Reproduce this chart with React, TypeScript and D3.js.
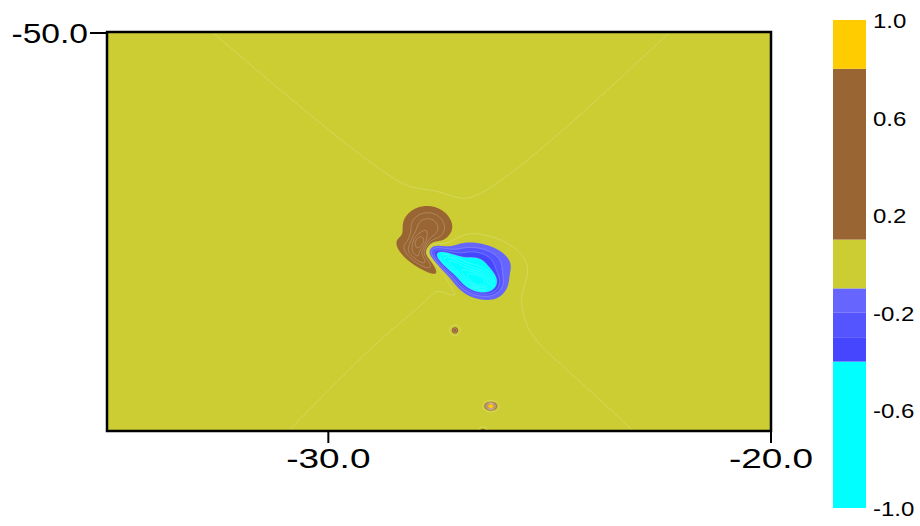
import React, { useEffect, useRef } from 'react';
import * as d3 from 'd3';

// axes
const xDomain = [-35, -20];
const yDomain = [-59, -50];
const xTicks = [-30, -20];
const yTicks = [-50];

// colour bands: lower edge of each band and its fill
const bandEdges = [-1.0, -0.4, -0.3, -0.2, -0.1, 0.1, 0.8, 1.0];
const bandColors = ['#00ffff', '#4646ff', '#5555ff', '#6666ff', '#cccc33', '#996633', '#ffcc00'];
const barTicks = [1.0, 0.6, 0.2, -0.2, -0.6, -1.0];
const lineLevels = [-0.9, -0.8, -0.7, -0.6, -0.5, -0.4, -0.3, -0.2, 0, 0.2, 0.3, 0.4, 0.5, 0.6, 0.7];

// features of the field (degrees)
// brown peak, brown head, brown tail, blue tip, blue core, blue top, blue halo, ridge, three small spots
const blobLon = [-27.93, -27.75, -27.93, -27.21, -26.57, -26.69, -26.35, -27.34, -27.14, -26.33, -26.51];
const blobLat = [-54.76, -54.42, -55.10, -55.23, -55.62, -55.14, -55.48, -55.66, -56.73, -58.44, -59.02];
const blobAmp = [0.5, 0.35, 0.3, -0.55, -0.75, -0.4, -0.05, 0.05, 0.3, 1.25, 0.3];
const blobSigU = [0.14, 0.32, 0.31, 0.5, 0.29, 0.5, 0.7, 0.45, 0.056, 0.07, 0.056];
const blobSigV = [0.14, 0.3, 0.11, 0.135, 0.18, 0.25, 0.7, 0.11, 0.056, 0.048, 0.056];
const blobAngle = [0, 0, -36, -36, -10, -10, 0, -43, 0, 0, 0];

// weak background saddle, its zero line makes the faint X
const saddleCenter = [-27.21, -54.88];
const saddleAmp = 0.05;
const saddleSlopeTop = 0.92;
const saddleSlopeBottom = 1.02;
const saddleShear = 0.05;
const saddleGap = 1.1;

const W = 920;
const H = 526;
const px0 = 107, px1 = 771, py0 = 32, py1 = 431;

function field(lon: number, lat: number) {
  let v = 0;
  for (let k = 0; k < blobAmp.length; k++) {
    const dx = lon - blobLon[k];
    const dy = lat - blobLat[k];
    const a = (blobAngle[k] * Math.PI) / 180;
    const u = dx * Math.cos(a) + dy * Math.sin(a);
    const w = -dx * Math.sin(a) + dy * Math.cos(a);
    v += blobAmp[k] * Math.exp(-(u * u) / (2 * blobSigU[k] ** 2) - (w * w) / (2 * blobSigV[k] ** 2));
  }
  const sy = lat - saddleCenter[1];
  const slope = sy > 0 ? saddleSlopeTop : saddleSlopeBottom;
  const sx = slope * (lon - saddleCenter[0] + saddleShear * sy);
  const g2 = saddleGap * saddleGap;
  v += (saddleAmp * (sx * sx - sy * sy + g2)) / (sx * sx + sy * sy + g2);
  return v;
}

const App = () => {
  const ref = useRef<SVGSVGElement>(null);

  useEffect(() => {
    const svg = d3.select(ref.current);
    svg.selectAll('*').remove();

    const x = d3.scaleLinear().domain(xDomain).range([px0, px1]);
    const y = d3.scaleLinear().domain(yDomain).range([py1, py0]);
    const c = d3.scaleLinear().domain([-1, 1]).range([508, 20]);

    const nx = 664;
    const ny = 399;
    const cw = (px1 - px0) / nx;
    const ch = (py1 - py0) / ny;
    const values: number[] = new Array(nx * ny);
    for (let j = 0; j < ny; j++) {
      for (let i = 0; i < nx; i++) {
        values[j * nx + i] = field(x.invert(px0 + (i + 0.5) * cw), y.invert(py0 + (j + 0.5) * ch));
      }
    }

    const proj = d3.geoTransform({
      point(px, py) {
        this.stream.point(px0 + px * cw, py0 + py * ch);
      },
    });
    const path = d3.geoPath(proj);
    const contours = d3.contours().size([nx, ny]);

    svg.append('defs').append('clipPath').attr('id', 'plot-clip')
      .append('rect').attr('x', px0).attr('y', py0).attr('width', px1 - px0).attr('height', py1 - py0);

    const plot = svg.append('g').attr('clip-path', 'url(#plot-clip)');
    plot.append('rect')
      .attr('x', px0).attr('y', py0).attr('width', px1 - px0).attr('height', py1 - py0)
      .attr('fill', bandColors[0]);

    plot.append('g')
      .selectAll('path')
      .data(contours.thresholds(bandEdges.slice(1, -1))(values))
      .join('path')
      .attr('d', path as any)
      .attr('fill', (d, i) => bandColors[i + 1]);

    plot.append('g')
      .attr('fill', 'none')
      .attr('stroke', '#ffffff')
      .attr('stroke-opacity', 0.35)
      .attr('stroke-width', 0.6)
      .selectAll('path')
      .data(contours.thresholds(lineLevels)(values))
      .join('path')
      .attr('d', path as any);

    // frame
    svg.append('rect')
      .attr('x', px0).attr('y', py0).attr('width', px1 - px0).attr('height', py1 - py0)
      .attr('fill', 'none').attr('stroke', '#000').attr('stroke-width', 2.5);

    const font = '"Liberation Sans", Arial, sans-serif';
    const fmt = (v: number) => v.toFixed(1);

    svg.append('g').selectAll('line').data(xTicks).join('line')
      .attr('x1', d => x(d)).attr('x2', d => x(d))
      .attr('y1', py1).attr('y2', py1 + 12)
      .attr('stroke', '#000').attr('stroke-width', 2);
    svg.append('g').selectAll('text').data(xTicks).join('text')
      .attr('transform', d => `translate(${x(d)},468) scale(1.32,1)`)
      .attr('text-anchor', 'middle')
      .attr('font-family', font).attr('font-size', 28)
      .text(d => fmt(d));

    svg.append('g').selectAll('line').data(yTicks).join('line')
      .attr('x1', 90).attr('x2', px0)
      .attr('y1', d => y(d) + 1).attr('y2', d => y(d) + 1)
      .attr('stroke', '#000').attr('stroke-width', 2);
    svg.append('g').selectAll('text').data(yTicks).join('text')
      .attr('transform', d => `translate(88,${y(d) + 11}) scale(1.2,1)`)
      .attr('text-anchor', 'end')
      .attr('font-family', font).attr('font-size', 28)
      .text(d => fmt(d));

    // colour bar
    const bar = svg.append('g');
    bar.selectAll('rect').data(bandColors).join('rect')
      .attr('x', 833).attr('width', 33)
      .attr('y', (d, i) => c(bandEdges[i + 1]))
      .attr('height', (d, i) => c(bandEdges[i]) - c(bandEdges[i + 1]))
      .attr('fill', d => d);
    bar.selectAll('text').data(barTicks).join('text')
      .attr('transform', d => `translate(873,${c(d) + 8}) scale(1.2,1)`)
      .attr('font-family', font).attr('font-size', 20)
      .text(d => fmt(d));
  }, []);

  return (
    <svg
      ref={ref}
      width={W}
      height={H}
      style={{ position: 'absolute', left: 0, top: 0, background: '#fff' }}
    />
  );
};

export default App;
